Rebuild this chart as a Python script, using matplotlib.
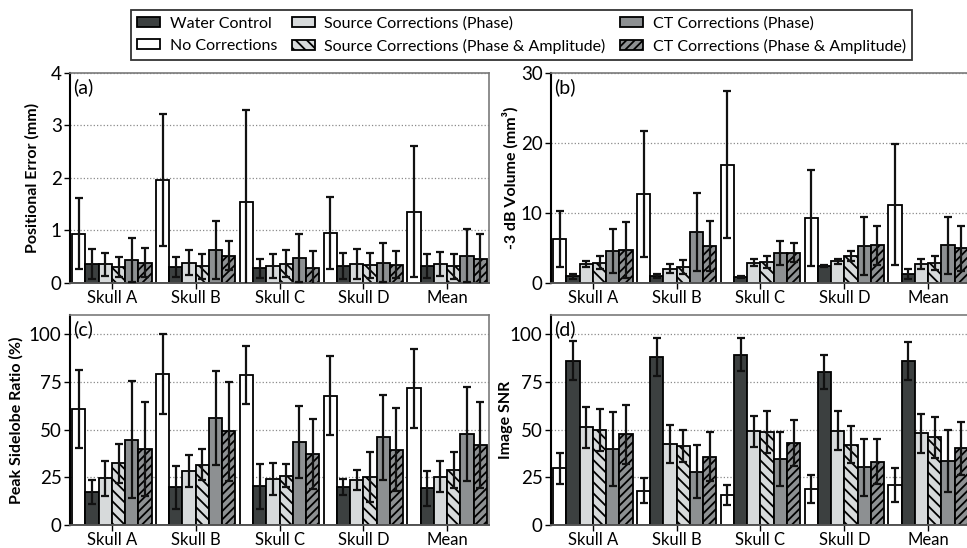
import numpy as np
import matplotlib
matplotlib.use("Agg")
import matplotlib.pyplot as plt
from matplotlib.patches import Patch

plt.rcParams['font.family'] = ['Lato', 'DejaVu Sans']
plt.rcParams['hatch.linewidth'] = 1.3

groups = ["Skull A", "Skull B", "Skull C", "Skull D", "Mean"]

# bar order within each group
series = ["No Corrections", "Water Control", "Source Corrections (Phase)",
          "Source Corrections (Phase & Amplitude)", "CT Corrections (Phase)",
          "CT Corrections (Phase & Amplitude)"]

# (a) positional error, mm
pos_error = [[0.94, 1.96, 1.54, 0.95, 1.36],
             [0.36, 0.31, 0.28, 0.33, 0.32],
             [0.36, 0.39, 0.32, 0.36, 0.36],
             [0.30, 0.32, 0.37, 0.34, 0.32],
             [0.44, 0.63, 0.47, 0.39, 0.52],
             [0.39, 0.52, 0.28, 0.35, 0.45]]
pos_error_sd = [[0.67, 1.26, 1.76, 0.68, 1.24],
                [0.29, 0.19, 0.18, 0.25, 0.23],
                [0.22, 0.23, 0.23, 0.29, 0.23],
                [0.19, 0.24, 0.25, 0.24, 0.24],
                [0.42, 0.56, 0.46, 0.38, 0.51],
                [0.27, 0.28, 0.33, 0.26, 0.48]]

# (b) -3 dB volume, mm^3
volume = [[6.3, 12.7, 16.9, 9.3, 11.2],
          [0.95, 0.95, 0.86, 2.43, 1.33],
          [2.67, 2.05, 2.9, 3.1, 2.67],
          [2.9, 2.29, 3.0, 3.81, 2.9],
          [4.57, 7.29, 4.29, 5.29, 5.38],
          [4.76, 5.29, 4.33, 5.38, 4.95]]
volume_sd = [[3.95, 9.0, 10.5, 6.9, 8.7],
             [0.35, 0.3, 0.15, 0.2, 0.7],
             [0.4, 0.62, 0.5, 0.37, 0.7],
             [0.9, 1.05, 0.8, 0.7, 1.0],
             [3.1, 5.6, 1.65, 4.1, 4.05],
             [4.0, 3.6, 1.4, 2.75, 3.2]]

# (c) peak sidelobe ratio, %
psr = [[60.7, 79.1, 78.5, 67.7, 71.6],
       [17.1, 19.7, 20.2, 19.7, 19.2],
       [24.4, 28.4, 24.1, 23.6, 25.3],
       [32.3, 31.6, 25.8, 25.0, 28.8],
       [44.7, 55.8, 43.6, 45.9, 47.6],
       [39.8, 49.0, 37.2, 39.4, 41.9]]
psr_sd = [[20.5, 21.0, 15.0, 20.6, 20.6],
          [6.3, 11.2, 11.8, 4.2, 9.2],
          [9.3, 8.3, 8.5, 5.2, 8.0],
          [10.2, 8.0, 6.0, 13.0, 9.2],
          [30.5, 24.6, 18.8, 22.2, 24.6],
          [24.5, 26.0, 18.3, 21.7, 22.5]]

# (d) image SNR
snr = [[29.8, 18.0, 15.9, 18.8, 20.9],
       [86.0, 88.1, 89.2, 79.9, 86.0],
       [51.1, 42.4, 49.0, 49.4, 48.0],
       [49.9, 41.5, 48.9, 42.1, 45.9],
       [39.8, 27.9, 34.6, 30.2, 33.3],
       [47.6, 35.8, 42.9, 33.2, 40.1]]
snr_sd = [[8.1, 6.6, 5.2, 7.5, 8.9],
          [10.3, 10.0, 8.5, 8.9, 10.0],
          [10.9, 10.0, 8.1, 10.3, 10.2],
          [10.9, 8.3, 11.0, 9.6, 10.7],
          [19.6, 14.0, 14.0, 15.0, 16.2],
          [15.5, 12.7, 12.2, 11.6, 14.0]]

colors = ["white", "#3c4040", "#d7dadb", "#d7dadb", "#8d9092", "#8d9092"]
hatches = [None, None, None, "\\\\\\", None, "////"]
BAR_W = 0.158


def draw_panel(ax, vals, sds, ylabel, tag, ymax, yticks, label_x):
    x = np.arange(len(groups))
    for i in range(len(series)):
        pos = x + (i - 2.5) * BAR_W
        ax.bar(pos, vals[i], BAR_W, color=colors[i], edgecolor="black",
               linewidth=1.3, hatch=hatches[i], zorder=2)
        ax.errorbar(pos, vals[i], yerr=sds[i], fmt="none", ecolor="#111111",
                    elinewidth=1.6, capsize=3, capthick=1.6, zorder=3)
    ax.set_xlim(-0.5, len(groups) - 0.5)
    ax.set_ylim(0, ymax)
    ax.set_yticks(yticks)
    ax.set_xticks(x)
    ax.set_xticklabels(groups, fontsize=12)
    ax.tick_params(axis="y", labelsize=13.5, length=4, width=1, pad=2)
    ax.tick_params(axis="x", length=4, width=1, pad=1)
    ax.yaxis.grid(True, linestyle=":", color="#8a8a8a", linewidth=0.9)
    ax.set_axisbelow(True)
    ax.set_ylabel(ylabel, fontsize=11.5, fontweight="bold")
    ax.yaxis.set_label_coords(label_x, 0.5)
    for side in ["top", "right"]:
        ax.spines[side].set_color("#7a7a7a")
        ax.spines[side].set_linewidth(1.2)
    ax.spines["left"].set_linewidth(1.5)
    ax.spines["bottom"].set_color("#555555")
    ax.spines["bottom"].set_linewidth(1.4)
    ax.text(0.008, 0.975, tag, transform=ax.transAxes, va="top", ha="left",
            fontsize=14)


def main():
    fig = plt.figure(figsize=(9.67, 5.48), dpi=100)
    w, h = 0.4333, 0.3832
    ax_a = fig.add_axes([0.0724, 0.4836, w, h])
    ax_b = fig.add_axes([0.5698, 0.4836, w, h])
    ax_c = fig.add_axes([0.0724, 0.0420, w, h])
    ax_d = fig.add_axes([0.5698, 0.0420, w, h])

    draw_panel(ax_a, pos_error, pos_error_sd, "Positional Error (mm)", "(a)",
               4, [0, 1, 2, 3, 4], -0.072)
    draw_panel(ax_b, volume, volume_sd, "-3 dB Volume (mm³)", "(b)",
               30, [0, 10, 20, 30], -0.078)
    draw_panel(ax_c, psr, psr_sd, "Peak Sidelobe Ratio (%)", "(c)",
               110, [0, 25, 50, 75, 100], -0.110)
    draw_panel(ax_d, snr, snr_sd, "Image SNR", "(d)",
               110, [0, 25, 50, 75, 100], -0.090)

    handles = [Patch(facecolor=colors[i], edgecolor="black", linewidth=1.3,
                     hatch=hatches[i], label=series[i]) for i in range(6)]
    # legend fills column by column
    order = [1, 0, 2, 3, 4, 5]
    leg = fig.legend([handles[i] for i in order], [series[i] for i in order],
                     loc="upper center", bbox_to_anchor=(0.5393, 0.982),
                     ncol=3, fontsize=11.5, frameon=True, fancybox=False,
                     handlelength=1.45, handleheight=0.65, handletextpad=0.6,
                     columnspacing=0.9, labelspacing=0.5, borderpad=0.4,
                     borderaxespad=0)
    leg.get_frame().set_edgecolor("black")
    leg.get_frame().set_linewidth(1.3)

    fig.savefig("out.png", dpi=100)


if __name__ == '__main__':
    main()
